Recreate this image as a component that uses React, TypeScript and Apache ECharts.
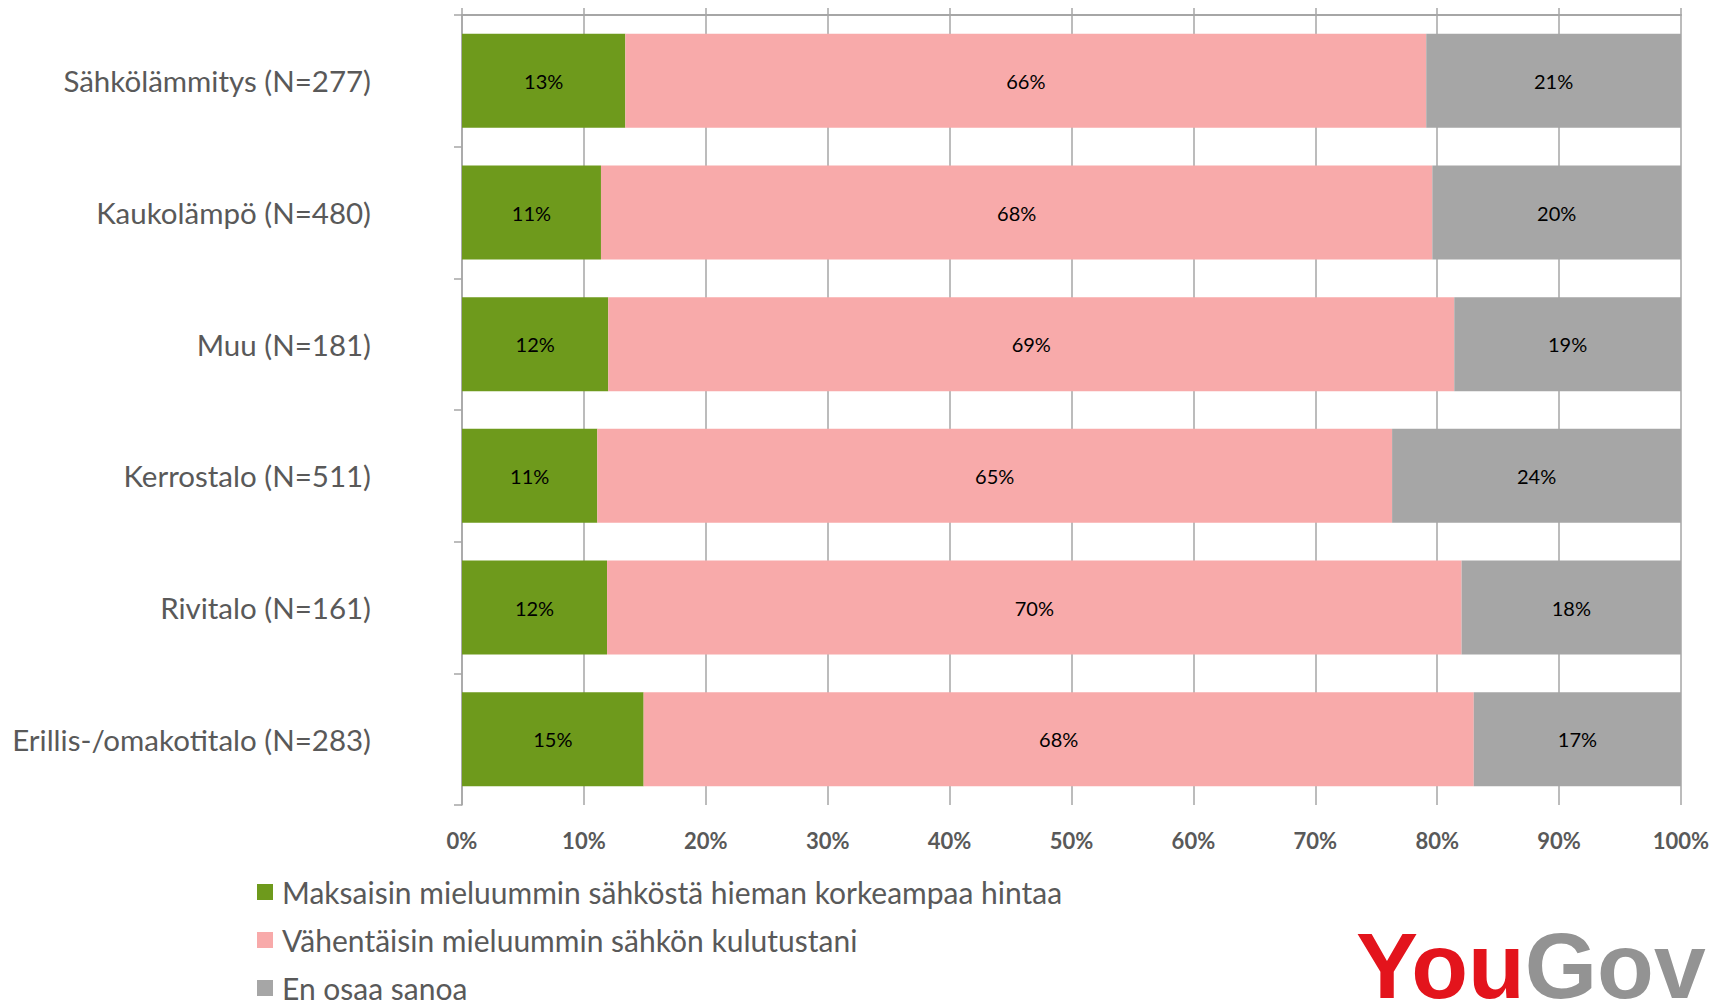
import React, { useEffect, useRef } from "react";
import * as echarts from "echarts";

const categories = [
  "Sähkölämmitys (N=277)",
  "Kaukolämpö (N=480)",
  "Muu (N=181)",
  "Kerrostalo (N=511)",
  "Rivitalo (N=161)",
  "Erillis-/omakotitalo (N=283)",
];

const seriesNames = [
  "Maksaisin mieluummin sähköstä hieman korkeampaa hintaa",
  "Vähentäisin mieluummin sähkön kulutustani",
  "En osaa sanoa",
];

const payMore = [13.4, 11.4, 12.0, 11.1, 11.9, 14.9];
const reduceUse = [65.7, 68.2, 69.4, 65.2, 70.1, 68.1];
const dontKnow = [20.9, 20.4, 18.6, 23.7, 18.0, 17.0];

const seriesColors = ["#6E9A1C", "#F8AAAA", "#A6A6A6"];

const xMin = 0;
const xMax = 100;
const xStep = 10;

const FONT = "Lato, 'Open Sans', sans-serif";
const GRID = "#A6A6A6";
const TEXT = "#595959";

export default function App() {
  const ref = useRef<HTMLDivElement>(null);

  useEffect(() => {
    document.body.style.margin = "0";
    const chart = echarts.init(ref.current!, null, { renderer: "svg" });
    const values = [payMore, reduceUse, dontKnow];
    chart.setOption({
      animation: false,
      backgroundColor: "#ffffff",
      textStyle: { fontFamily: FONT },
      grid: { left: 462, right: 49, top: 15, bottom: 196, containLabel: false },
      legend: {
        orient: "vertical",
        left: 257,
        top: 877,
        height: 140,
        padding: 0,
        icon: "rect",
        itemWidth: 16,
        itemHeight: 16,
        itemGap: 18,
        data: seriesNames,
        textStyle: {
          fontFamily: FONT,
          fontSize: 30,
          color: TEXT,
          padding: [0, 0, 0, 4],
        },
      },
      xAxis: [
        {
          type: "value",
          position: "bottom",
          min: xMin,
          max: xMax,
          interval: xStep,
          axisLine: { show: false },
          axisTick: { show: false },
          splitLine: { show: true, lineStyle: { color: GRID, width: 1.5 } },
          axisLabel: {
            formatter: "{value}%",
            fontFamily: FONT,
            fontSize: 22,
            fontWeight: "bold",
            color: TEXT,
            margin: 24,
          },
        },
        {
          type: "value",
          position: "top",
          min: xMin,
          max: xMax,
          interval: xStep,
          axisLine: { show: true, lineStyle: { color: GRID, width: 2 } },
          axisTick: { show: true, length: 7, lineStyle: { color: GRID, width: 1.5 } },
          splitLine: { show: false },
          axisLabel: { show: false },
        },
      ],
      yAxis: {
        type: "category",
        inverse: true,
        data: categories,
        axisLine: { show: true, lineStyle: { color: GRID, width: 1.5 } },
        axisTick: { show: true, length: 8, lineStyle: { color: GRID, width: 1.5 } },
        axisLabel: { fontFamily: FONT, fontSize: 29.5, color: TEXT, margin: 91 },
      },
      series: seriesNames.map((name, i) => ({
        name,
        type: "bar",
        stack: "total",
        xAxisIndex: 0,
        barCategoryGap: "28.6%",
        data: values[i],
        itemStyle: { color: seriesColors[i] },
        label: {
          show: true,
          position: "inside",
          formatter: (p: any) => Math.round(p.value) + "%",
          color: "#000000",
          fontFamily: FONT,
          fontSize: 20,
        },
      })),
      graphic: [
        {
          type: "text",
          left: 1356,
          y: 966,
          style: {
            text: "{a|You}{b|Gov}",
            verticalAlign: "middle",
            rich: {
              a: {
                fill: "#E3141C",
                fontFamily: "'Liberation Sans', Arial, sans-serif",
                fontWeight: "bold",
                fontSize: 93,
                lineHeight: 68,
              },
              b: {
                fill: "#939393",
                fontFamily: "'Liberation Sans', Arial, sans-serif",
                fontWeight: "bold",
                fontSize: 93,
                lineHeight: 68,
              },
            },
          },
        },
      ],
    });
    return () => chart.dispose();
  }, []);

  return <div ref={ref} style={{ width: 1730, height: 1001 }} />;
}
